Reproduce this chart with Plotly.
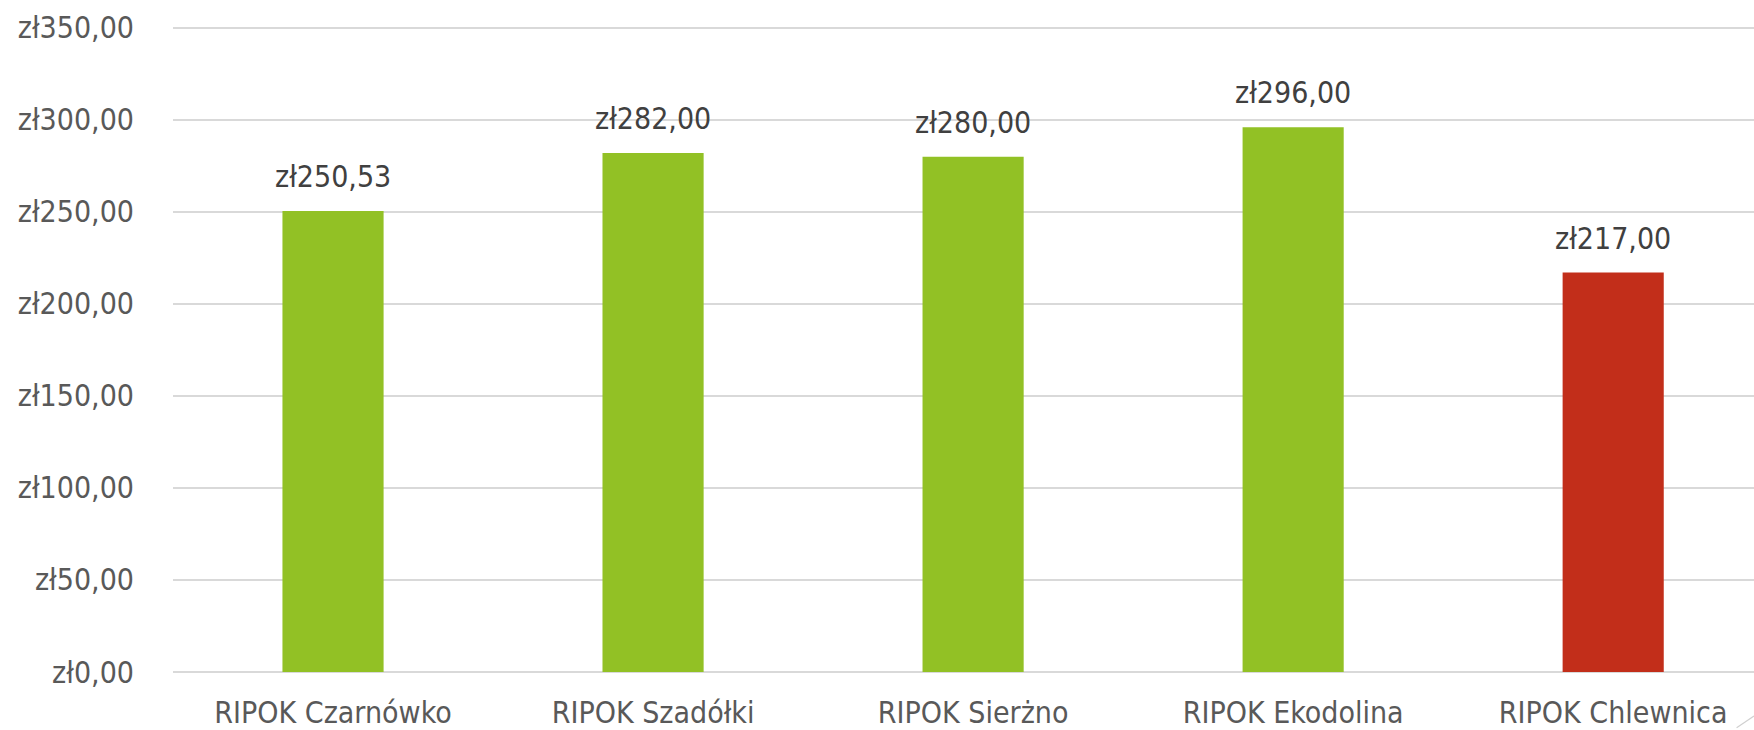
import plotly.graph_objects as go

categories = ["RIPOK Czarnówko", "RIPOK Szadółki", "RIPOK Sierżno", "RIPOK Ekodolina", "RIPOK Chlewnica"]
values = [250.53, 282.00, 280.00, 296.00, 217.00]
bar_colors = ["#92C125", "#92C125", "#92C125", "#92C125", "#C22E1A"]
y_ticks = [0, 50, 100, 150, 200, 250, 300, 350]

def fmt(v):
    return "zł" + f"{v:.2f}".replace(".", ",")

FONT = "DejaVu Sans Condensed, DejaVu Sans, Liberation Sans, sans-serif"

fig = go.Figure()
fig.add_trace(go.Bar(
    x=list(range(len(categories))),
    y=values,
    marker=dict(color=bar_colors, line=dict(width=0)),
    width=0.316,
    hoverinfo="skip",
))

for i, v in enumerate(values):
    fig.add_annotation(x=i, y=v, text=fmt(v), showarrow=False, yanchor="bottom",
                       yshift=15, font=dict(family=FONT, size=30, color="#404040"))

# faint decorative diagonal in the bottom-right corner
fig.add_shape(type="line", xref="paper", yref="paper",
              x0=0.989, y0=-0.0864, x1=1.0, y1=-0.068,
              line=dict(color="#D0D0D0", width=1.2))

fig.update_layout(
    width=1754, height=730,
    margin=dict(l=173, r=0, t=26, b=56),
    paper_bgcolor="white", plot_bgcolor="white",
    showlegend=False,
    font=dict(family=FONT, size=30, color="#595959"),
    xaxis=dict(
        range=[-0.5, 4.44],
        tickmode="array", tickvals=list(range(len(categories))), ticktext=categories,
        showgrid=False, zeroline=False, showline=False,
        ticks="", ticklabelstandoff=20,
        tickfont=dict(family=FONT, size=30, color="#595959"),
    ),
    yaxis=dict(
        range=[0, 351],
        tickmode="array", tickvals=y_ticks, ticktext=[fmt(t) for t in y_ticks],
        showgrid=True, gridcolor="#D9D9D9", gridwidth=1.5,
        zeroline=True, zerolinecolor="#D9D9D9", zerolinewidth=1.5,
        showline=False, ticks="", ticklabelstandoff=38,
        tickfont=dict(family=FONT, size=30, color="#595959"),
    ),
)

fig.write_html("out.html",
               config={"displayModeBar": False},
               post_script="document.body.style.margin='0';document.body.style.overflow='hidden';")
